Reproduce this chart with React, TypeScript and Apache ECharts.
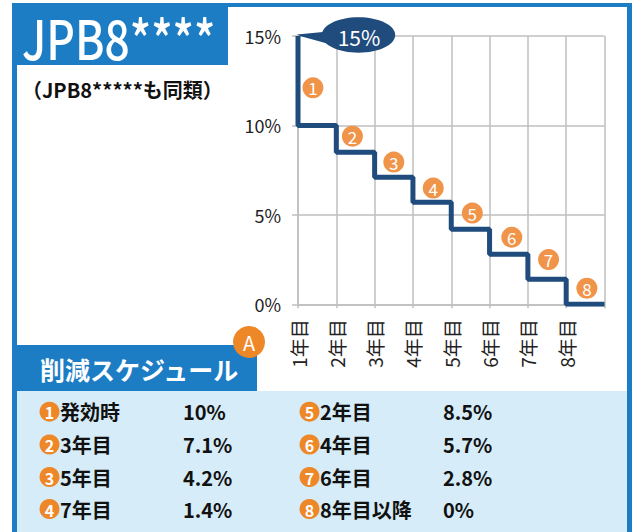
import React, { useEffect, useRef } from "react";
import * as echarts from "echarts";

// x-axis tick labels (years)
const yearLabels = ["1年目", "2年目", "3年目", "4年目", "5年目", "6年目", "7年目", "8年目"];
// step line: x positions (year index) and remaining rate (%)
const stepX = [0, 0, 1, 2, 3, 4, 5, 6, 7, 8];
const stepValues = [15, 10, 8.5, 7.1, 5.7, 4.2, 2.8, 1.4, 0, 0];
// numbered markers on the chart
const markerNames = ["1", "2", "3", "4", "5", "6", "7", "8"];
const markerX = [0.39, 1.42, 2.5, 3.53, 4.55, 5.58, 6.54, 7.54];
const markerY = [12.1, 9.4, 7.95, 6.5, 5.1, 3.75, 2.5, 0.9];
// y-axis
const yTicks = [0, 5, 10, 15];
// callout
const calloutValue = 15;
const calloutText = "15%";
// schedule table
const tableNums = ["1", "2", "3", "4", "5", "6", "7", "8"];
const tableLabels = ["発効時", "3年目", "5年目", "7年目", "2年目", "4年目", "6年目", "8年目以降"];
const tableValues = ["10%", "7.1%", "4.2%", "1.4%", "8.5%", "5.7%", "2.8%", "0%"];

const title = "JPB8****";
const subtitle = "（JPB8*****も同類）";
const sectionTitle = "削減スケジュール";
const badge = "A";

const FONT = "'Noto Sans CJK JP', 'Noto Sans', sans-serif";
const BLUE = "#1D7DC4";
const NAVY = "#1F4B7D";
const ORANGE_CHART = "#F0944A";
const ORANGE = "#EE8727";
const LIGHT = "#D6ECF8";
const GRID = "#BFBFBF";

export default function App() {
  const ref = useRef<HTMLDivElement>(null);
  useEffect(() => {
    if (!ref.current) return;
    const chart = echarts.init(ref.current, null, { renderer: "svg" });

    const bg: any[] = [
      { type: "rect", shape: { x: 12, y: 3, width: 5, height: 540 }, style: { fill: BLUE }, z: 0 },
      { type: "rect", shape: { x: 12, y: 3, width: 620, height: 4 }, style: { fill: BLUE }, z: 0 },
      { type: "rect", shape: { x: 627, y: 3, width: 5, height: 540 }, style: { fill: BLUE }, z: 0 },
      { type: "rect", shape: { x: 12, y: 3, width: 216, height: 62 }, style: { fill: BLUE }, z: 0 },
      { type: "rect", shape: { x: 17, y: 391, width: 610, height: 150 }, style: { fill: LIGHT }, z: 0 },
      { type: "rect", shape: { x: 12, y: 345, width: 245, height: 46 }, style: { fill: BLUE }, z: 0 },
      {
        type: "text", x: 22, y: 36, z: 5, scaleX: 0.82,
        style: { text: title, fill: "#fff", font: `500 54px ${FONT}`, verticalAlign: "middle" },
      },
      {
        type: "text", x: 22, y: 89, z: 5,
        style: { text: subtitle, fill: "#111", font: `bold 20px ${FONT}`, verticalAlign: "middle" },
      },
      {
        type: "text", x: 40, y: 369, z: 5,
        style: { text: sectionTitle, fill: "#fff", font: `bold 25px ${FONT}`, verticalAlign: "middle" },
      },
      { type: "circle", shape: { cx: 249, cy: 342, r: 16 }, style: { fill: ORANGE }, z: 6 },
      {
        type: "text", x: 249, y: 342, z: 7,
        style: { text: badge, fill: "#fff", font: `20px ${FONT}`, align: "center", verticalAlign: "middle" },
      },
    ];

    const rowY = [411.7, 444.5, 477, 509];
    tableLabels.forEach((lab, i) => {
      const col = i < 4 ? 0 : 1;
      const row = i % 4;
      const bx = col === 0 ? 49.5 : 309.5;
      const tx = col === 0 ? 60 : 320;
      const vx = col === 0 ? 183 : 443;
      const y = rowY[row];
      bg.push(
        { type: "circle", shape: { cx: bx, cy: y, r: 10 }, style: { fill: ORANGE }, z: 5 },
        {
          type: "text", x: bx, y: y + 0.5, z: 6,
          style: { text: tableNums[i], fill: "#fff", font: `bold 16px ${FONT}`, align: "center", verticalAlign: "middle" },
        },
        {
          type: "text", x: tx, y, z: 6,
          style: { text: lab, fill: "#111", font: `bold 20px ${FONT}`, verticalAlign: "middle" },
        },
        {
          type: "text", x: vx, y, z: 6,
          style: { text: tableValues[i], fill: "#111", font: `bold 20px ${FONT}`, verticalAlign: "middle" },
        }
      );
    });

    chart.setOption({
      animation: false,
      backgroundColor: "#fff",
      textStyle: { fontFamily: FONT },
      grid: { left: 298, top: 36, width: 306.5, height: 268.3 },
      xAxis: {
        type: "value",
        min: 0,
        max: yearLabels.length,
        interval: 1,
        axisLine: { show: true, lineStyle: { color: GRID, width: 1.5 } },
        axisTick: { show: true, length: 4, lineStyle: { color: GRID, width: 1.5 } },
        splitLine: { show: true, lineStyle: { color: GRID, width: 1.5 } },
        axisLabel: {
          rotate: 90,
          margin: 15,
          fontSize: 19,
          color: "#222",
          fontFamily: FONT,
          formatter: (v: number) => yearLabels[v] ?? "",
        },
      },
      yAxis: {
        type: "value",
        min: yTicks[0],
        max: yTicks[yTicks.length - 1],
        interval: yTicks[1] - yTicks[0],
        axisLine: { show: true, lineStyle: { color: GRID, width: 1.5 } },
        axisTick: { show: true, length: 6, lineStyle: { color: GRID, width: 1.5 } },
        splitLine: { show: true, lineStyle: { color: GRID, width: 1.5 } },
        axisLabel: { formatter: "{value}%", margin: 17, fontSize: 18, color: "#222", fontFamily: FONT },
      },
      series: [
        {
          type: "line",
          step: "end",
          data: stepX.map((x, i) => [x, stepValues[i]]),
          symbol: "none",
          lineStyle: { color: NAVY, width: 5 },
          z: 3,
        },
        {
          type: "scatter",
          data: markerX.map((x, i) => ({ value: [x, markerY[i]], name: markerNames[i] })),
          symbol: "circle",
          symbolSize: 21,
          itemStyle: { color: ORANGE_CHART, opacity: 1 },
          label: {
            show: true,
            position: "inside",
            formatter: (p: any) => p.name,
            color: "#fff",
            fontSize: 17,
            fontFamily: FONT,
          },
          z: 4,
        },
      ],
      graphic: bg,
    });

    const tip = chart.convertToPixel({ gridIndex: 0 }, [0, calloutValue]) as number[];
    const tx = tip[0];
    const ty = tip[1];
    chart.setOption({
      graphic: [
        ...bg,
        {
          type: "polygon", z: 100,
          shape: { points: [[tx - 1, ty - 1.5], [tx + 25, ty - 4], [tx + 31, ty + 8], [tx + 2, ty]] },
          style: { fill: NAVY },
        },
        {
          type: "ellipse", z: 100,
          shape: { cx: tx + 60.5, cy: ty - 1, rx: 36.7, ry: 17.7 },
          style: { fill: NAVY },
        },
        {
          type: "text", z: 101, x: tx + 61, y: ty + 1,
          style: { text: calloutText, fill: "#fff", font: `21px ${FONT}`, align: "center", verticalAlign: "middle" },
        },
      ],
    }, { replaceMerge: ["graphic"] });

    return () => chart.dispose();
  }, []);
  return (
    <div
      ref={ref}
      style={{ position: "fixed", left: 0, top: 0, width: 634, height: 532 }}
    />
  );
}
